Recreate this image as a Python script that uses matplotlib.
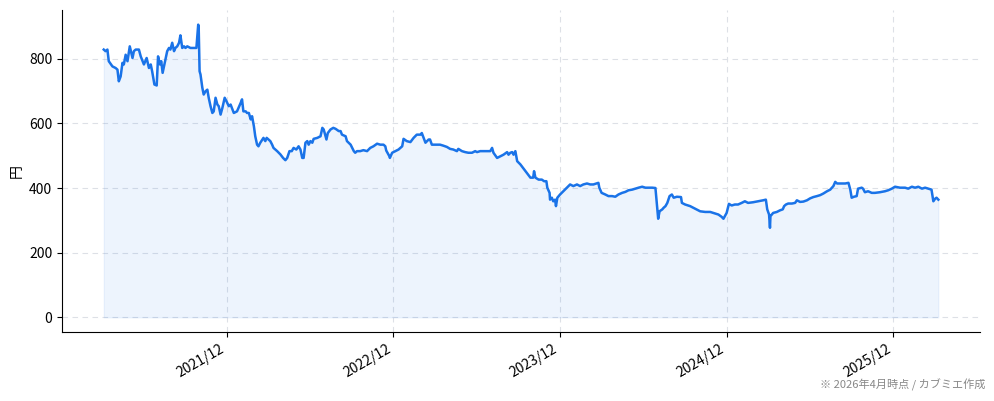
import matplotlib
matplotlib.use("Agg")
import matplotlib.pyplot as plt
import pandas as pd

plt.rcParams['font.family'] = ['Noto Sans CJK JP', 'DejaVu Sans']

dates = [
    "2021-03-07", "2021-03-11", "2021-03-15", "2021-03-18", "2021-03-26", "2021-04-02", "2021-04-06",
    "2021-04-09", "2021-04-13", "2021-04-17", "2021-04-20", "2021-04-24", "2021-04-28", "2021-05-03",
    "2021-05-09", "2021-05-12", "2021-05-16", "2021-05-23", "2021-05-27", "2021-06-03", "2021-06-09",
    "2021-06-14", "2021-06-18", "2021-06-21", "2021-06-26", "2021-07-01", "2021-07-04", "2021-07-08",
    "2021-07-11", "2021-07-14", "2021-07-17", "2021-07-20", "2021-07-24", "2021-07-28", "2021-07-31",
    "2021-08-04", "2021-08-08", "2021-08-11", "2021-08-15", "2021-08-19", "2021-08-22", "2021-08-26",
    "2021-08-30", "2021-09-02", "2021-09-06", "2021-09-13", "2021-09-26", "2021-09-30", "2021-10-01",
    "2021-10-03", "2021-10-05", "2021-10-09", "2021-10-12", "2021-10-16", "2021-10-20", "2021-10-23",
    "2021-10-27", "2021-10-31", "2021-11-03", "2021-11-07", "2021-11-11", "2021-11-14", "2021-11-18",
    "2021-11-22", "2021-11-27", "2021-12-01", "2021-12-06", "2021-12-10", "2021-12-17", "2021-12-24",
    "2022-01-01", "2022-01-04", "2022-01-07", "2022-01-12", "2022-01-15", "2022-01-19", "2022-01-23",
    "2022-01-26", "2022-01-30", "2022-02-02", "2022-02-06", "2022-02-09", "2022-02-13", "2022-02-20",
    "2022-02-24", "2022-02-27", "2022-03-07", "2022-03-11", "2022-03-14", "2022-03-22", "2022-03-29",
    "2022-04-04", "2022-04-09", "2022-04-13", "2022-04-18", "2022-04-23", "2022-04-27", "2022-05-03",
    "2022-05-08", "2022-05-12", "2022-05-16", "2022-05-19", "2022-05-23", "2022-05-27", "2022-05-30",
    "2022-06-03", "2022-06-07", "2022-06-10", "2022-06-18", "2022-06-25", "2022-06-29", "2022-07-02",
    "2022-07-08", "2022-07-11", "2022-07-17", "2022-07-23", "2022-07-28", "2022-08-04", "2022-08-08",
    "2022-08-11", "2022-08-19", "2022-08-22", "2022-08-30", "2022-09-06", "2022-09-09", "2022-09-13",
    "2022-09-20", "2022-09-27", "2022-10-05", "2022-10-12", "2022-10-19", "2022-10-27", "2022-11-03",
    "2022-11-10", "2022-11-14", "2022-11-16", "2022-11-23", "2022-11-24", "2022-11-29", "2022-12-06",
    "2022-12-13", "2022-12-21", "2022-12-24", "2022-12-31", "2023-01-08", "2023-01-15", "2023-01-22",
    "2023-01-30", "2023-02-02", "2023-02-06", "2023-02-10", "2023-02-17", "2023-02-20", "2023-02-24",
    "2023-03-03", "2023-03-14", "2023-03-21", "2023-03-29", "2023-04-05", "2023-04-12", "2023-04-20",
    "2023-04-23", "2023-05-01", "2023-05-08", "2023-05-15", "2023-05-23", "2023-05-30", "2023-06-03",
    "2023-06-10", "2023-06-25", "2023-07-02", "2023-07-06", "2023-07-09", "2023-07-17", "2023-07-24",
    "2023-07-31", "2023-08-08", "2023-08-11", "2023-08-15", "2023-08-19", "2023-08-22", "2023-08-26",
    "2023-08-30", "2023-09-06", "2023-09-13", "2023-09-21", "2023-09-28", "2023-10-04", "2023-10-06",
    "2023-10-09", "2023-10-16", "2023-10-23", "2023-10-28", "2023-11-02", "2023-11-04", "2023-11-09",
    "2023-11-10", "2023-11-14", "2023-11-17", "2023-11-21", "2023-11-23", "2023-11-26", "2023-12-02",
    "2023-12-09", "2023-12-17", "2023-12-24", "2023-12-31", "2024-01-08", "2024-01-15", "2024-01-22",
    "2024-01-30", "2024-02-06", "2024-02-13", "2024-02-20", "2024-02-24", "2024-02-26", "2024-03-02",
    "2024-03-10", "2024-03-17", "2024-03-25", "2024-04-01", "2024-04-08", "2024-04-16", "2024-04-23",
    "2024-04-30", "2024-05-08", "2024-05-15", "2024-05-22", "2024-05-30", "2024-06-06", "2024-06-13",
    "2024-06-21", "2024-06-28", "2024-07-02", "2024-07-04", "2024-07-07", "2024-07-13", "2024-07-16",
    "2024-07-20", "2024-07-24", "2024-07-29", "2024-08-03", "2024-08-07", "2024-08-14", "2024-08-23",
    "2024-08-25", "2024-09-01", "2024-09-12", "2024-09-23", "2024-10-04", "2024-10-15", "2024-10-26",
    "2024-11-02", "2024-11-13", "2024-11-20", "2024-11-24", "2024-12-01", "2024-12-06", "2024-12-12",
    "2024-12-19", "2024-12-26", "2025-01-03", "2025-01-10", "2025-01-17", "2025-01-28", "2025-02-08",
    "2025-02-19", "2025-02-25", "2025-02-28", "2025-03-04", "2025-03-06", "2025-03-07", "2025-03-13",
    "2025-03-21", "2025-03-28", "2025-04-03", "2025-04-06", "2025-04-10", "2025-04-15", "2025-04-23",
    "2025-04-30", "2025-05-04", "2025-05-11", "2025-05-18", "2025-05-26", "2025-06-02", "2025-06-09",
    "2025-06-17", "2025-06-24", "2025-07-01", "2025-07-09", "2025-07-16", "2025-07-23", "2025-07-27",
    "2025-07-31", "2025-08-07", "2025-08-18", "2025-08-25", "2025-08-29", "2025-09-01", "2025-09-06",
    "2025-09-12", "2025-09-15", "2025-09-23", "2025-09-26", "2025-09-30", "2025-10-07", "2025-10-15",
    "2025-10-22", "2025-11-02", "2025-11-13", "2025-11-20", "2025-11-28", "2025-12-05", "2025-12-16",
    "2025-12-27", "2026-01-03", "2026-01-11", "2026-01-18", "2026-01-25", "2026-02-02", "2026-02-09",
    "2026-02-16", "2026-02-23", "2026-02-27", "2026-03-03", "2026-03-06", "2026-03-10",
]

prices = [
    828, 823, 828, 792, 776, 771, 766,
    730, 745, 787, 782, 812, 792, 838,
    802, 823, 828, 828, 807, 782, 802,
    771, 782, 761, 720, 717, 807, 782,
    792, 756, 776, 797, 823, 833, 828,
    849, 823, 833, 838, 849, 872, 833,
    838, 833, 838, 833, 833, 905, 900,
    761, 751, 710, 689, 699, 704, 679,
    653, 632, 637, 679, 658, 653, 627,
    648, 679, 668, 653, 658, 632, 637,
    663, 674, 637, 637, 632, 632, 612,
    622, 591, 560, 534, 529, 540, 555,
    545, 555, 545, 534, 524, 514, 504,
    493, 486, 493, 514, 514, 524, 519,
    529, 519, 493, 493, 540, 545, 534,
    545, 540, 552, 555, 560, 586, 581,
    550, 570, 581, 586, 583, 576, 576,
    565, 560, 545, 534, 514, 509, 514,
    514, 517, 514, 524, 529, 537, 534,
    534, 529, 516, 498, 493, 509, 514,
    519, 529, 552, 545, 542, 555, 565,
    565, 570, 555, 540, 550, 550, 534,
    534, 534, 531, 527, 521, 519, 514,
    521, 514, 511, 509, 509, 514, 511,
    514, 514, 514, 524, 509, 493, 498,
    503, 511, 503, 509, 511, 503, 514,
    483, 473, 460, 445, 432, 432, 452,
    432, 426, 426, 421, 421, 401, 385,
    364, 370, 359, 364, 344, 370, 380,
    390, 401, 411, 406, 411, 406, 411,
    414, 411, 411, 414, 416, 401, 385,
    380, 375, 375, 373, 380, 385, 388,
    393, 395, 398, 401, 404, 401, 401,
    401, 400, 334, 305, 328, 334, 339,
    344, 354, 375, 380, 370, 373, 372,
    354, 349, 344, 336, 328, 326, 326,
    323, 318, 311, 305, 323, 351, 346,
    349, 349, 354, 359, 354, 356, 359,
    362, 364, 334, 318, 277, 313, 323,
    326, 331, 334, 344, 349, 352, 352,
    354, 362, 357, 358, 362, 368, 372,
    375, 378, 383, 390, 395, 406, 419,
    414, 414, 414, 416, 395, 370, 373,
    375, 398, 401, 398, 387, 390, 385,
    385, 387, 390, 393, 398, 404, 401,
    401, 398, 404, 401, 404, 398, 401,
    398, 395, 359, 367, 370, 364,
]

y_ticks = [0, 200, 400, 600, 800]
x_tick_labels = ["2021/12", "2022/12", "2023/12", "2024/12", "2025/12"]
y_label = "円"
note = "※ 2026年4月時点 / カブミエ作成"

line_color = "#1a73e8"

x = pd.to_datetime(dates)

fig = plt.figure(figsize=(9.94, 4.01), dpi=100)
ax = fig.add_axes([0.0624, 0.172, 0.9236, 0.803])

ax.fill_between(x, prices, 0, color=line_color, alpha=0.08, linewidth=0.8)
ax.plot(x, prices, color=line_color, linewidth=1.8)

tick_pos = pd.to_datetime([s.replace("/", "-") + "-01" for s in x_tick_labels])
ax.set_xticks(tick_pos)
ax.set_xticklabels(x_tick_labels, rotation=30, ha="right", fontsize=10)
ax.set_yticks(y_ticks)
ax.tick_params(axis="y", labelsize=10)
ax.set_ylabel(y_label, fontsize=10)

ax.grid(True, linestyle=(0, (5, 4)), color="#dde0e6", linewidth=0.8)
ax.set_axisbelow(True)
ax.spines["top"].set_visible(False)
ax.spines["right"].set_visible(False)

fig.text(0.991, 0.040, note, ha="right", va="center", fontsize=8, color="#888888")

fig.savefig("out.png", dpi=100)
